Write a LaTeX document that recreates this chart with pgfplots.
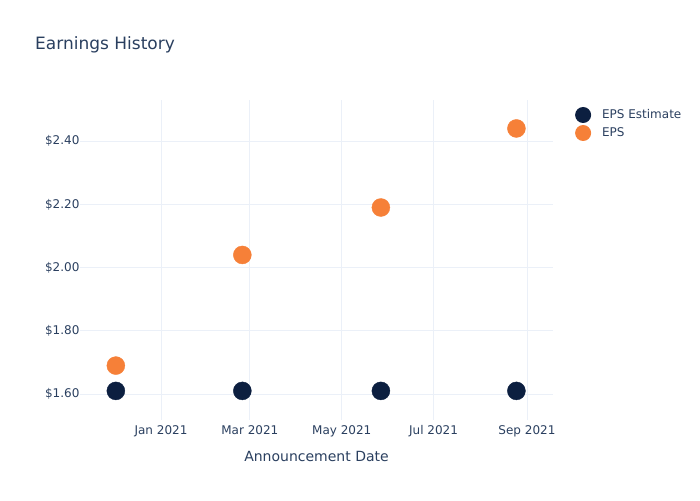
\documentclass[border=0pt]{standalone}
\usepackage{pgfplots}
\pgfplotsset{compat=1.18}
\usepackage{fontspec}
\setmainfont{DejaVu Sans}
\definecolor{txt}{HTML}{2A3F5F}
\definecolor{grd}{HTML}{EBF0F8}
\definecolor{navy}{HTML}{0C1F40}
\definecolor{orng}{HTML}{F68038}
\begin{document}
\begin{tikzpicture}
\useasboundingbox (0pt,0pt) rectangle (700pt,500pt);
\node[anchor=west, inner sep=0pt, text=txt, font=\fontsize{17}{20}\selectfont] at (35pt,455pt) {Earnings History};
\begin{axis}[
  at={(80pt,80pt)}, anchor=south west,
  scale only axis, width=473pt, height=320pt,
  xmin=-53.8, xmax=260.3,
  ymin=1.518, ymax=2.53,
  axis line style={draw=none},
  tick style={draw=none},
  grid=major, major grid style={grd, line width=0.8pt},
  xtick={0,59,120,181,243},
  xticklabels={Jan 2021,Mar 2021,May 2021,Jul 2021,Sep 2021},
  ytick={1.6,1.8,2.0,2.2,2.4},
  yticklabels={\$1.60,\$1.80,\$2.00,\$2.20,\$2.40},
  /pgf/number format/assume math mode=true,
  ticklabel style={text=txt, font=\fontsize{12}{14}\selectfont},
  xticklabel style={yshift=-2pt},
  yticklabel style={xshift=3pt},
  xlabel={Announcement Date},
  xlabel style={text=txt, font=\fontsize{14}{16}\selectfont, yshift=-7pt},
  clip=false,
  legend style={at={(1.04,0.985)}, anchor=north west, draw=none, fill=none,
    font=\fontsize{12}{14}\selectfont, text=txt, row sep=2pt},
  legend image code/.code={\fill[#1, draw=none] (0pt,0pt) circle (8pt); \path[draw=none, fill=none] (-8pt,0pt) -- (17pt,0pt);},
  legend cell align=left,
]
\addplot[only marks, mark=*, mark size=9pt, color=navy] coordinates {
  (-30,1.61) (54,1.61) (146,1.61) (236,1.61)};
\addlegendentry{EPS Estimate}
\addplot[only marks, mark=*, mark size=9pt, color=orng] coordinates {
  (-30,1.69) (54,2.04) (146,2.19) (236,2.44)};
\addlegendentry{EPS}
\end{axis}
\end{tikzpicture}
\end{document}
